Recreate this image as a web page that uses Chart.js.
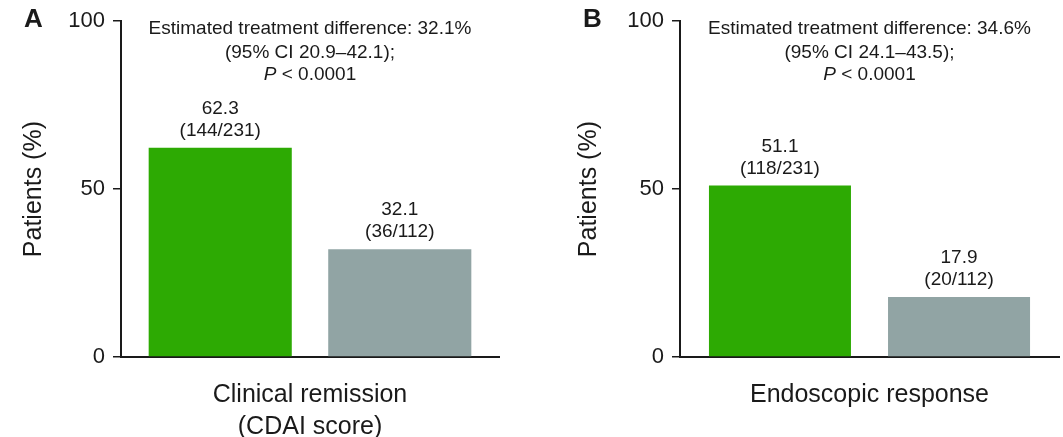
<!DOCTYPE html>
<html>
<head>
<meta charset="utf-8">
<script src="https://cdn.jsdelivr.net/npm/chart.js@4/dist/chart.umd.min.js"></script>
<style>
  html, body { margin: 0; padding: 0; background: #fff; }
  #wrap { position: relative; width: 1063px; height: 437px; }
  .panel { position: absolute; top: 0; height: 437px; }
</style>
</head>
<body>
<div id="wrap">
  <div class="panel" style="left:0;width:530px"><canvas id="chartA" width="530" height="437"></canvas></div>
  <div class="panel" style="left:530px;width:533px"><canvas id="chartB" width="533" height="437"></canvas></div>
</div>
<script>
// data
const panelLetters = ['A', 'B'];
const outcomeLabels = [['Clinical remission', '(CDAI score)'], ['Endoscopic response']];
const treatmentValues = [62.3, 51.1];
const placeboValues = [32.1, 17.9];
const treatmentCounts = ['(144/231)', '(118/231)'];
const placeboCounts = ['(36/112)', '(20/112)'];
const differences = ['32.1%', '34.6%'];
const confIntervals = ['20.9–42.1', '24.1–43.5'];
const pValues = ['< 0.0001', '< 0.0001'];
const yTicks = [0, 50, 100];

const FONT = '"Liberation Sans", Arial, Helvetica, sans-serif';
const INK = '#1a1a1a';
const GREEN = '#2daa03';
const GREY = '#91a4a4';
const TXT = 19;

// labels above bars
const barLabels = {
    id: 'barLabels',
    afterDatasetsDraw(chart) {
        const ctx = chart.ctx;
        ctx.save();
        ctx.fillStyle = INK;
        ctx.font = TXT + 'px ' + FONT;
        ctx.textAlign = 'center';
        ctx.textBaseline = 'middle';
        chart.data.datasets.forEach((ds, di) => {
            chart.getDatasetMeta(di).data.forEach((bar, i) => {
                ctx.fillText(ds.data[i].toFixed(1), bar.x, bar.y - 39);
                ctx.fillText(ds.counts[i], bar.x, bar.y - 17);
            });
        });
        ctx.restore();
    }
};

// treatment difference text + panel letter
const headerText = {
    id: 'headerText',
    afterDraw(chart, args, opts) {
        const ctx = chart.ctx;
        const area = chart.chartArea;
        const cx = chart.scales.x.getPixelForValue(0);
        ctx.save();
        ctx.fillStyle = INK;
        ctx.textBaseline = 'middle';
        ctx.textAlign = 'center';
        ctx.font = TXT + 'px ' + FONT;
        ctx.fillText('Estimated treatment difference: ' + opts.diff, cx, area.top + 8);
        ctx.fillText('(95% CI ' + opts.ci + ');', cx, area.top + 32);
        // italic P then the rest
        const rest = ' ' + opts.p;
        ctx.font = 'italic ' + TXT + 'px ' + FONT;
        const wP = ctx.measureText('P').width;
        ctx.font = TXT + 'px ' + FONT;
        const wR = ctx.measureText(rest).width;
        const x0 = cx - (wP + wR) / 2;
        ctx.textAlign = 'left';
        ctx.font = 'italic ' + TXT + 'px ' + FONT;
        ctx.fillText('P', x0, area.top + 54);
        ctx.font = TXT + 'px ' + FONT;
        ctx.fillText(rest, x0 + wP, area.top + 54);
        // panel letter
        ctx.font = 'bold 26px ' + FONT;
        ctx.fillText(opts.letter, opts.letterX, area.top - 1);
        ctx.restore();
    }
};

function makeChart(id, k, cfg) {
    return new Chart(document.getElementById(id), {
        type: 'bar',
        data: {
            labels: [outcomeLabels[k]],
            datasets: [
                { data: [treatmentValues[k]], counts: [treatmentCounts[k]], backgroundColor: GREEN },
                { data: [placeboValues[k]], counts: [placeboCounts[k]], backgroundColor: GREY }
            ]
        },
        options: {
            responsive: false,
            animation: false,
            categoryPercentage: cfg.cat,
            barPercentage: cfg.bar,
            layout: { padding: { left: cfg.padLeft, right: cfg.padRight, top: 21, bottom: 0 } },
            plugins: {
                legend: { display: false },
                tooltip: { enabled: false },
                headerText: { diff: differences[k], ci: confIntervals[k], p: pValues[k], letter: panelLetters[k], letterX: cfg.letterX }
            },
            scales: {
                x: {
                    grid: { display: false },
                    border: { display: true, color: INK, width: 2 },
                    ticks: { color: INK, font: { family: FONT, size: 25, lineHeight: 1.28 }, padding: 14, maxRotation: 0 },
                    afterFit: s => { s.height = 80; }
                },
                y: {
                    min: 0,
                    max: 100,
                    afterBuildTicks: s => { s.ticks = yTicks.map(v => ({ value: v })); },
                    grid: { display: true, drawOnChartArea: false, drawTicks: true, tickLength: 8, color: INK, lineWidth: 1.5 },
                    border: { display: true, color: INK, width: 2 },
                    ticks: { color: INK, font: { family: FONT, size: 22 }, padding: 8 },
                    title: { display: true, text: 'Patients (%)', color: INK, font: { family: FONT, size: 25 }, padding: { top: cfg.titlePad, bottom: 0 } },
                    afterFit: s => { s.width = 121; }
                }
            }
        },
        plugins: [barLabels, headerText]
    });
}

makeChart('chartA', 0, { padLeft: 0, padRight: 31, letterX: 24, titlePad: 19, cat: 0.95, bar: 0.797 });
makeChart('chartB', 1, { padLeft: 29, padRight: 4, letterX: 53, titlePad: 15, cat: 0.945, bar: 0.793 });
</script>
</body>
</html>
